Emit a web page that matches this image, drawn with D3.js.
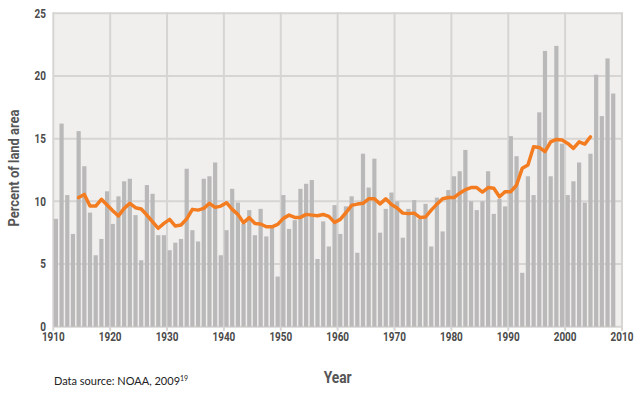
<!DOCTYPE html>
<html>
<head>
<meta charset="utf-8">
<script src="https://cdn.jsdelivr.net/npm/d3@7"></script>
<style>
  body { margin: 0; background: #fff; }
  .tick_label { font-family: Roboto, "DejaVu Sans", sans-serif; font-weight: bold; font-size: 12.5px; fill: #4a4a4a; }
  .axis_title { font-family: Roboto, "DejaVu Sans", sans-serif; font-weight: bold; fill: #555; }
  .source { font-family: Lato, "Open Sans", sans-serif; font-size: 11px; fill: #222; }
</style>
</head>
<body>
<div id="chart"></div>
<script>
// Percent of land area, one value per year 1910-2008
var firstYear = 1910;
var barValues = [
  8.6, 16.2, 10.5, 7.4, 15.6, 12.8, 9.1, 5.7, 7.0, 10.8,   // 1910s
  8.2, 10.4, 11.6, 11.8, 8.9, 5.3, 11.3, 10.6, 7.3, 7.3,   // 1920s
  6.1, 6.7, 7.0, 12.6, 7.7, 6.8, 11.8, 12.0, 13.1, 5.7,    // 1930s
  7.7, 11.0, 9.9, 8.2, 9.3, 7.3, 9.4, 7.2, 7.9, 4.0,       // 1940s
  10.5, 7.8, 8.5, 11.0, 11.4, 11.7, 5.4, 8.4, 6.4, 9.7,    // 1950s
  7.4, 9.6, 10.4, 5.9, 13.8, 11.1, 13.4, 7.5, 9.4, 10.7,   // 1960s
  10.0, 7.1, 9.4, 10.1, 8.6, 9.8, 6.4, 10.3, 7.6, 10.9,    // 1970s
  12.0, 12.4, 14.1, 10.0, 9.3, 10.0, 12.4, 9.0, 10.2, 9.6, // 1980s
  15.2, 13.6, 4.3, 12.0, 10.5, 17.1, 22.0, 12.0, 22.4, 14.6, // 1990s
  10.5, 11.6, 13.1, 9.9, 13.8, 20.1, 16.8, 21.4, 18.6       // 2000s
];

// smoothed line, 1914-2004
var lineFirstYear = 1914;
var lineValues = [
  10.3, 10.55, 9.62, 9.62, 10.16, 9.7,
  9.25, 8.83, 9.44, 9.84, 9.49, 9.39, 8.91, 8.37, 7.85, 8.24,
  8.56, 8.03, 8.11, 8.6, 9.36, 9.3, 9.44, 9.84, 9.52, 9.62,
  9.89, 9.36, 8.96, 8.3, 8.7, 8.24, 8.19, 7.97, 7.97, 8.16,
  8.64, 8.9, 8.72, 8.72, 8.96, 8.9, 8.85, 8.95, 8.8, 8.32,
  8.56, 9.09, 9.68, 9.78, 9.84, 10.2, 10.2, 9.8, 10.2, 9.75,
  9.47, 9.06, 9.02, 9.06, 8.72, 8.75, 9.3, 9.78, 10.2, 10.3,
  10.3, 10.65, 10.93, 11.1, 11.1, 10.74, 11.1, 11.04, 10.37, 10.77,
  10.77, 11.3, 12.63, 12.9, 14.35, 14.3, 13.96, 14.75, 14.94, 14.89,
  14.62, 14.23, 14.75, 14.57, 15.15
];

var xTicks = [1910, 1920, 1930, 1940, 1950, 1960, 1970, 1980, 1990, 2000, 2010];
var yTicks = [0, 5, 10, 15, 20, 25];

var width = 640,
  height = 394,
  barWidth = 4.2,
  digitWidth = 5.7; // condensed look of the original labels

var svg = d3.select('#chart').append('svg')
  .attr('width', width)
  .attr('height', height);

var x = d3.scaleLinear().domain([1910, 2010]).range([53.3, 622]);
var y = d3.scaleLinear().domain([0, 25]).range([326.7, 13.3]);

// plot background
svg.append('rect')
  .attr('x', x(1910))
  .attr('y', y(25))
  .attr('width', x(2010) - x(1910))
  .attr('height', y(0) - y(25))
  .attr('fill', '#f0efed');

// grid
svg.append('g').selectAll('line')
  .data(yTicks)
  .enter().append('line')
  .attr('x1', x(1910)).attr('x2', x(2010))
  .attr('y1', function (d) { return y(d); })
  .attr('y2', function (d) { return y(d); })
  .attr('stroke', '#d6d5d3')
  .attr('stroke-width', 2);

svg.append('g').selectAll('line')
  .data(xTicks)
  .enter().append('line')
  .attr('x1', function (d) { return x(d); })
  .attr('x2', function (d) { return x(d); })
  .attr('y1', y(25) - 1).attr('y2', y(0) + 4)
  .attr('stroke', '#d6d5d3')
  .attr('stroke-width', 2);

// bars
svg.append('g').selectAll('rect')
  .data(barValues)
  .enter().append('rect')
  .attr('x', function (d, i) { return x(firstYear + i) + 0.5; })
  .attr('width', barWidth)
  .attr('y', function (d) { return y(d); })
  .attr('height', function (d) { return y(0) - y(d); })
  .attr('fill', '#bab9b9');

// smoothed line
var line = d3.line()
  .x(function (d, i) { return x(lineFirstYear + i) + 0.5 + barWidth / 2; })
  .y(function (d) { return y(d); });

svg.append('path')
  .datum(lineValues)
  .attr('d', line)
  .attr('fill', 'none')
  .attr('stroke', '#f47c20')
  .attr('stroke-width', 3.5)
  .attr('stroke-linejoin', 'round')
  .attr('stroke-linecap', 'round');

// tick labels
svg.append('g').selectAll('text')
  .data(yTicks)
  .enter().append('text')
  .attr('class', 'tick_label')
  .attr('x', 46)
  .attr('y', function (d) { return y(d); })
  .attr('dy', '0.35em')
  .attr('text-anchor', 'end')
  .attr('textLength', function (d) { return String(d).length * digitWidth; })
  .attr('lengthAdjust', 'spacingAndGlyphs')
  .text(function (d) { return d; });

svg.append('g').selectAll('text')
  .data(xTicks)
  .enter().append('text')
  .attr('class', 'tick_label')
  .attr('x', function (d) { return x(d); })
  .attr('y', 340.5)
  .attr('text-anchor', 'middle')
  .attr('textLength', 4 * digitWidth)
  .attr('lengthAdjust', 'spacingAndGlyphs')
  .text(function (d) { return d; });

// axis titles
svg.append('text')
  .attr('class', 'axis_title')
  .attr('transform', 'translate(19,168) rotate(-90)')
  .attr('text-anchor', 'middle')
  .attr('textLength', 117)
  .attr('lengthAdjust', 'spacingAndGlyphs')
  .style('font-size', '15px')
  .text('Percent of land area');

svg.append('text')
  .attr('class', 'axis_title')
  .attr('x', x(1960))
  .attr('y', 383)
  .attr('text-anchor', 'middle')
  .attr('textLength', 28)
  .attr('lengthAdjust', 'spacingAndGlyphs')
  .style('font-size', '17px')
  .text('Year');

var src = svg.append('text')
  .attr('class', 'source')
  .attr('x', 54)
  .attr('y', 384.5);
src.append('tspan').text('Data source: NOAA, 2009');
src.append('tspan')
  .attr('dy', '-0.45em')
  .style('font-size', '7px')
  .text('19');
</script>
</body>
</html>
